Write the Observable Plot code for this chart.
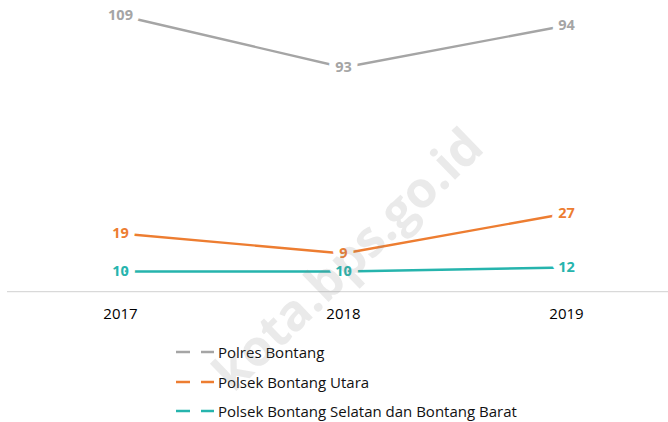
<!DOCTYPE html>
<html>
<head>
<meta charset="utf-8">
<script src="https://cdn.jsdelivr.net/npm/d3@7"></script>
<script src="https://cdn.jsdelivr.net/npm/@observablehq/plot@0.6"></script>
<style>
  body { margin: 0; background: #fff; font-family: "Open Sans", sans-serif; }
  #wrap { position: relative; width: 668px; height: 422px; overflow: hidden; }
  .leg { position: absolute; left: 176px; height: 20px; display: flex; align-items: center; font-size: 15px; color: #111; }
  .leg svg { margin-right: 4px; }
  #wm { position: absolute; left: 0; top: 0; pointer-events: none; }
</style>
</head>
<body>
<div id="wrap"></div>
<script>
const years = ["2017", "2018", "2019"];
const seriesNames = ["Polsek Bontang Selatan dan Bontang Barat", "Polsek Bontang Utara", "Polres Bontang"];
const selatanBarat = [10, 10, 12];
const utara = [19, 9, 27];
const polres = [109, 93, 94];
const legendOrder = ["Polres Bontang", "Polsek Bontang Utara", "Polsek Bontang Selatan dan Bontang Barat"];
const colors = ["#a5a5a5", "#ed7d31", "#26b4ad"];
const watermark = "kota.bps.go.id";

const seriesValues = [selatanBarat, utara, polres];
const data = [];
seriesNames.forEach((s, i) => years.forEach((y, j) => data.push({year: y, series: s, value: seriesValues[i][j]})));

const chart = Plot.plot({
  width: 668,
  height: 330,
  marginTop: 0,
  marginBottom: 39,
  marginLeft: 7,
  marginRight: 0,
  style: {fontFamily: "'Open Sans', sans-serif", fontSize: "15px", color: "#000", background: "white"},
  x: {type: "point", domain: years, range: [120, 566], padding: 0, tickSize: 0, tickPadding: 17, label: null},
  y: {domain: [0, 145.5], axis: null},
  color: {domain: legendOrder, range: colors},
  marks: [
    Plot.ruleY([0], {stroke: "#d9d9d9", strokeWidth: 1.25}),
    Plot.line(data, Plot.stackY2({x: "year", y: "value", z: "series", stroke: "series", strokeWidth: 2.4})),
    Plot.text(data, Plot.stackY2({x: "year", y: "value", z: "series", text: d => String(d.value), fill: "series",
      stroke: "white", strokeWidth: 13, strokeLinejoin: "round", fontWeight: "bold", fontSize: 14.5, dy: 0}))
  ]
});
const wrap = document.getElementById("wrap");
wrap.appendChild(chart);

const legendY = [352, 382, 411];
legendOrder.forEach((name, i) => {
  const div = document.createElement("div");
  div.className = "leg";
  div.style.top = (legendY[i] - 10) + "px";
  div.innerHTML = `<svg width="38" height="20"><line x1="0" x2="14" y1="10" y2="10" stroke="${colors[i]}" stroke-width="2.5"/><line x1="25" x2="38" y1="10" y2="10" stroke="${colors[i]}" stroke-width="2.5"/></svg><span>${name}</span>`;
  wrap.appendChild(div);
});

const ns = "http://www.w3.org/2000/svg";
const wm = document.createElementNS(ns, "svg");
wm.setAttribute("id", "wm");
wm.setAttribute("width", 668);
wm.setAttribute("height", 422);
const t = document.createElementNS(ns, "text");
t.setAttribute("transform", "translate(486,150) rotate(-44)");
t.setAttribute("text-anchor", "end");
t.setAttribute("font-family", "'Open Sans', sans-serif");
t.setAttribute("font-weight", "bold");
t.setAttribute("font-size", "50");
t.setAttribute("fill", "#808080");
t.setAttribute("fill-opacity", "0.17");
t.textContent = watermark;
wm.appendChild(t);
wrap.appendChild(wm);
</script>
</body>
</html>
